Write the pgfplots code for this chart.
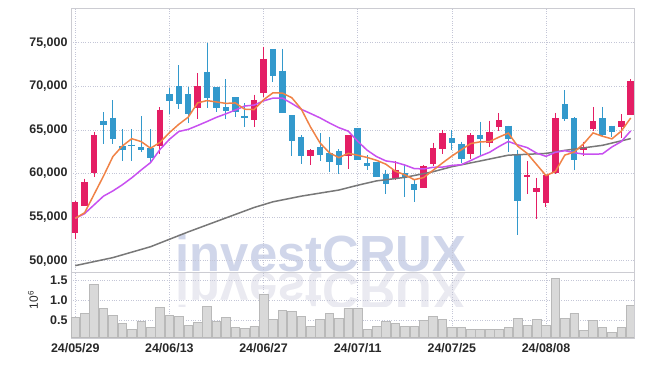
\documentclass[border=0pt]{standalone}
\usepackage{pgfplots}
\pgfplotsset{compat=1.18}
\usepackage{pgfplotstable}
\usepackage{fontspec}
\setmainfont{Liberation Sans}
\definecolor{upc}{RGB}{228,30,100}
\definecolor{dnc}{RGB}{51,153,204}
\definecolor{maA}{RGB}{240,130,70}
\definecolor{maB}{RGB}{200,80,240}
\definecolor{maC}{RGB}{120,120,120}
\definecolor{gridc}{RGB}{196,198,215}
\definecolor{framec}{RGB}{204,204,210}
\definecolor{wm}{RGB}{208,214,234}
\definecolor{wmr}{RGB}{234,234,241}
\definecolor{lab}{RGB}{40,40,40}
\definecolor{volf}{RGB}{217,217,217}
\definecolor{vold}{RGB}{185,185,185}

\pgfplotstableread{
x o h l c
0 53200 56800 52450 56700
1 56300 59400 56300 59000
2 60000 64800 59600 64400
9 63200 67650 62250 67300
13 67550 71500 66250 70000
19 66100 69050 65350 68400
20 69250 74550 68800 73150
25 62050 62800 60950 62700
29 61950 64400 60500 64400
34 59350 61450 59250 60400
37 58350 61000 58300 60850
38 61100 63550 60900 62900
39 62850 65000 62200 64600
42 62250 64600 61700 64400
44 63550 66050 63050 64700
45 65350 66950 64900 66150
48 59650 61450 57700 59800
49 57900 59500 54750 58300
50 56650 59850 56200 59800
51 60000 66950 59900 66350
54 62750 63650 62050 63050
55 65150 67650 64850 66000
58 65350 66800 64050 66000
59 66750 70800 66750 70600
}\uptab

\pgfplotstableread{
x o h l c
3 66000 67000 63400 65600
4 66400 68400 63350 64000
5 63150 65050 61450 62750
6 63300 65050 61450 63200
7 63050 66550 62500 62750
8 62900 65050 61350 61800
10 69100 69850 66800 68350
11 70000 72400 67450 68000
12 69100 69950 65750 66850
14 71650 75000 67550 68600
15 69900 69900 67000 67550
16 67600 70800 66250 67200
17 68750 68750 66500 67100
18 66600 68050 65350 66400
21 74250 74250 70500 71200
22 71800 74300 66950 66950
23 66700 66700 61950 63750
24 64200 64400 61050 61950
26 63050 64600 61400 62150
27 62350 64200 60150 61300
28 62600 62800 59950 61000
30 65200 65200 61550 61600
31 61200 62100 60400 60900
32 61300 61300 59600 59650
33 59950 60400 57650 58750
35 60000 61000 57350 59550
36 58850 59200 56750 58100
40 64050 65000 62700 63550
41 63400 63650 61200 61700
43 64400 65950 62050 63900
46 65500 65500 62500 64000
47 62100 62700 53000 56900
52 67950 69550 66000 66300
53 66350 66450 60400 61550
56 66350 67650 64150 64450
57 65500 65500 64150 64800
}\dntab

\pgfplotstableread{
x a b
0 54850 54850
1 55500 55400
2 57600 56400
3 59700 57400
4 61940 58000
5 63150 58700
6 63990 59500
7 63660 60400
8 62900 61250
9 63560 62750
10 64680 63915
11 65640 64815
12 66460 65060
13 68100 65500
14 68360 65960
15 68200 66440
16 68040 66840
17 68090 67275
18 67370 67735
19 67330 67845
20 68450 68325
21 69250 68645
22 69220 68655
23 68690 68030
24 67400 67365
25 65310 66880
26 63500 66375
27 62370 65795
28 61820 65255
29 62310 64855
30 62090 63700
31 61840 62670
32 61510 61940
33 61060 61440
34 60260 61285
35 59850 60970
36 59290 60565
37 59530 60520
38 60360 60710
39 61200 60730
40 62000 60925
41 62720 61005
42 63430 61480
43 63630 61995
44 63650 62425
45 64170 63085
46 64630 63675
47 63130 63280
48 62310 62970
49 61030 62340
50 59760 61965
51 60230 62430
52 62110 62620
53 62460 62385
54 63410 62220
55 64650 62205
56 64270 62250
57 63970 63040
58 64860 63660
59 66370 64890
}\matab

\pgfplotstableread{
x g
0 49430
4 50350
8 51600
12 53300
16 54900
19 56100
21 56750
24 57400
28 58100
30 58650
32 59150
35 59550
38 60200
40 60780
43 61430
46 62100
50 62300
52 62650
56 63230
59 64000
}\longtab

\pgfplotstableread{
x v
0 0.57
1 0.675
2 1.39
3 0.79
4 0.62
5 0.425
6 0.27
7 0.475
8 0.325
9 0.82
10 0.625
11 0.59
12 0.375
13 0.45
14 0.85
15 0.475
16 0.57
17 0.325
18 0.29
19 0.35
20 1.15
21 0.52
22 0.74
23 0.72
24 0.59
25 0.34
26 0.52
27 0.67
28 0.54
29 0.79
30 0.79
31 0.27
32 0.35
33 0.475
34 0.425
35 0.34
36 0.34
37 0.5
38 0.59
39 0.52
40 0.325
41 0.325
42 0.27
43 0.27
44 0.27
45 0.27
46 0.325
47 0.54
48 0.375
49 0.52
50 0.375
51 1.55
52 0.54
53 0.67
54 0.24
55 0.5
56 0.325
57 0.2
58 0.325
59 0.87
}\voltab

\begin{document}
\begin{tikzpicture}[x=1bp,y=1bp]
\useasboundingbox (0,0) rectangle (645,366);
% watermark and its reflection
\node[anchor=base, inner sep=0, text=wm] at (321,95) {\fontsize{51}{51}\selectfont\bfseries investCRUX};
\begin{scope}
\clip (71,60) rectangle (634,93.5);
\node[anchor=base, inner sep=0, text=wmr, yscale=-1] at (321,93) {\fontsize{51}{51}\selectfont\bfseries investCRUX};
\end{scope}

\begin{axis}[at={(71bp,94bp)}, anchor=south west, scale only axis,
  width=563bp, height=264bp,
  xmin=-0.45, xmax=59.35, ymin=48700, ymax=78980,
  axis line style={framec},
  xtick={0,10,20,30,40,50}, xticklabels={},
  ytick={50000,55000,60000,65000,70000,75000},
  yticklabel={\pgfmathprintnumber[assume math mode=true,1000 sep={,}]{\tick}},
  yticklabel style={font=\bfseries\fontsize{12.5}{13}\selectfont, text=lab},
  scaled y ticks=false,
  major tick length=0pt,
  grid=major, major grid style={gridc, dotted, line width=0.6bp},
  clip=true]
% wicks
\addplot[draw=none, mark=none, forget plot,
  error bars/.cd, y dir=minus, y explicit, error mark=none,
  error bar style={line width=1bp, draw=upc}]
  table[x=x, y=h, y error expr=\thisrow{h}-\thisrow{l}] {\uptab};
\addplot[draw=none, mark=none, forget plot,
  error bars/.cd, y dir=minus, y explicit, error mark=none,
  error bar style={line width=1bp, draw=dnc}]
  table[x=x, y=h, y error expr=\thisrow{h}-\thisrow{l}] {\dntab};
% bodies
\addplot[draw=none, mark=none, forget plot,
  error bars/.cd, y dir=minus, y explicit, error mark=none,
  error bar style={line width=6.5bp, draw=upc}]
  table[x=x, y=c, y error expr=\thisrow{c}-\thisrow{o}] {\uptab};
\addplot[draw=none, mark=none, forget plot,
  error bars/.cd, y dir=minus, y explicit, error mark=none,
  error bar style={line width=6.5bp, draw=dnc}]
  table[x=x, y=o, y error expr=\thisrow{o}-\thisrow{c}] {\dntab};
% moving averages
\addplot[maC, line width=1.5bp, mark=none] table[x=x, y=g] {\longtab};
\addplot[maB, line width=1.5bp, mark=none] table[x=x, y=b] {\matab};
\addplot[maA, line width=1.5bp, mark=none] table[x=x, y=a] {\matab};
\end{axis}

\begin{axis}[at={(71bp,28.3bp)}, anchor=south west, scale only axis,
  width=563bp, height=65.7bp,
  xmin=-0.45, xmax=59.35, ymin=0.058, ymax=1.708,
  axis line style={framec},
  xtick={0,10,20,30,40,50},
  xticklabels={24/05/29,24/06/13,24/06/27,24/07/11,24/07/25,24/08/08},
  xticklabel style={font=\bfseries\fontsize{12.5}{13}\selectfont, text=lab, yshift=-2bp},
  ytick={0.5,1,1.5}, yticklabels={0.5,1.0,1.5},
  yticklabel style={font=\bfseries\fontsize{12.5}{13}\selectfont, text=lab},
  major tick length=0pt,
  grid=major, major grid style={gridc, dotted, line width=0.6bp},
  clip=true]
\addplot[ybar, bar width=8.6bp, bar shift=0pt, fill=volf, draw=vold, line width=0.6bp] table[x=x, y=v] {\voltab};
\end{axis}
\node[rotate=90, text=lab] at (33,66) {\fontsize{12}{12}\selectfont 10\textsuperscript{6}};
\end{tikzpicture}
\end{document}
